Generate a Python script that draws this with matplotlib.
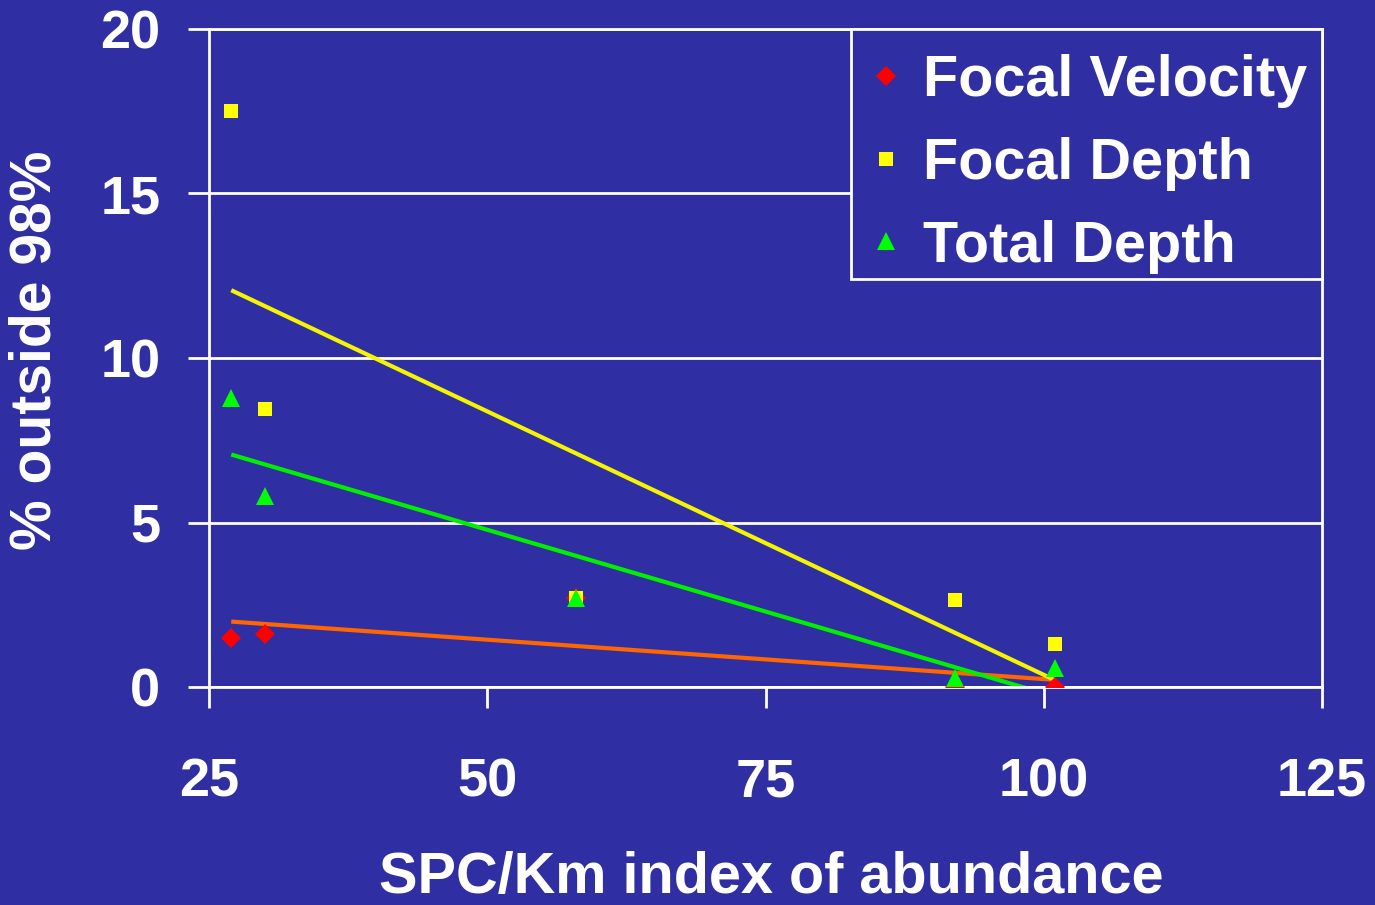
import numpy as np
import matplotlib
matplotlib.use('Agg')
import matplotlib.pyplot as plt
from matplotlib.patches import Rectangle

# values
spc_index = [27, 30, 58, 92, 101]
focal_velocity = [1.5, 1.6, 2.7, 0.0, 0.0]
focal_depth = [17.5, 8.45, 2.7, 2.63, 1.32]
total_depth = [8.78, 5.8, 2.7, 0.27, 0.58]

x_ticks = [25, 50, 75, 100, 125]
y_ticks = [0, 5, 10, 15, 20]

bg = '#2F2FA3'
plt.rcParams['font.family'] = ['Liberation Sans', 'DejaVu Sans']
plt.rcParams['font.weight'] = 'bold'

fig = plt.figure(figsize=(13.75, 9.05), dpi=100, facecolor=bg)
ax = fig.add_axes([209 / 1375, 1 - 687 / 905, 1113 / 1375, 658 / 905])
ax.set_facecolor('none')

series = [
    ('Focal Velocity', focal_velocity, 'D', 10, '#FF0000', '#FF6600'),
    ('Focal Depth', focal_depth, 's', 10, '#FFFF00', '#F5F500'),
    ('Total Depth', total_depth, '^', 13, '#00FF00', '#00F000'),
]

handles = []
x = np.array(spc_index, dtype=float)
for name, vals, mk, ms, mcol, lcol in series:
    # linear trend line over the data range
    k, b = np.polyfit(x, vals, 1)
    xs = np.array([x.min(), x.max()])
    ax.plot(xs, k * xs + b, color=lcol, lw=3, zorder=2, solid_capstyle='butt')
for name, vals, mk, ms, mcol, lcol in series:
    h, = ax.plot(spc_index, vals, linestyle='none', marker=mk, ms=ms,
                 color=mcol, markeredgewidth=0, label=name, zorder=3)
    handles.append(h)

ax.set_xlim(25, 125)
ax.set_ylim(0, 20)
ax.set_xticks(x_ticks)
ax.set_yticks(y_ticks)
ax.grid(axis='y', color='white', lw=2)
ax.set_axisbelow(True)
for s in ax.spines.values():
    s.set_color('white')
    s.set_linewidth(2)
ax.tick_params(axis='x', colors='white', length=15, width=2, pad=36, labelsize=39)
ax.tick_params(axis='y', colors='white', length=15, width=2, pad=20, labelsize=39)
for lab in ax.get_xticklabels() + ax.get_yticklabels():
    lab.set_fontweight('bold')

fig.text(771 / 1375, 1 - 878 / 905, 'SPC/Km index of abundance', color='white',
         fontsize=41.5, fontweight='bold', ha='center', va='center')
fig.text(36 / 1375, 1 - 350 / 905, '% outside 98%', color='white', rotation=90,
         fontsize=41, fontweight='bold', ha='center', va='center')

# legend box drawn on its own, covering the grid lines
ax.add_patch(Rectangle((0.577, 0.620), 0.423, 0.380, transform=ax.transAxes,
                       facecolor=bg, edgecolor='white', lw=2, zorder=4,
                       clip_on=False))
leg = ax.legend(handles=handles, loc='upper right',
                bbox_to_anchor=(1.0, 1.0 - 10 / 658),
                fontsize=41.5, frameon=False, borderaxespad=0,
                handlelength=0.8, handletextpad=0.24, labelspacing=0.5,
                borderpad=0.26, markerscale=1.0)
leg.set_zorder(5)
for t in leg.get_texts():
    t.set_color('white')
    t.set_fontweight('bold')

fig.savefig('out.png', dpi=100, facecolor=bg)
